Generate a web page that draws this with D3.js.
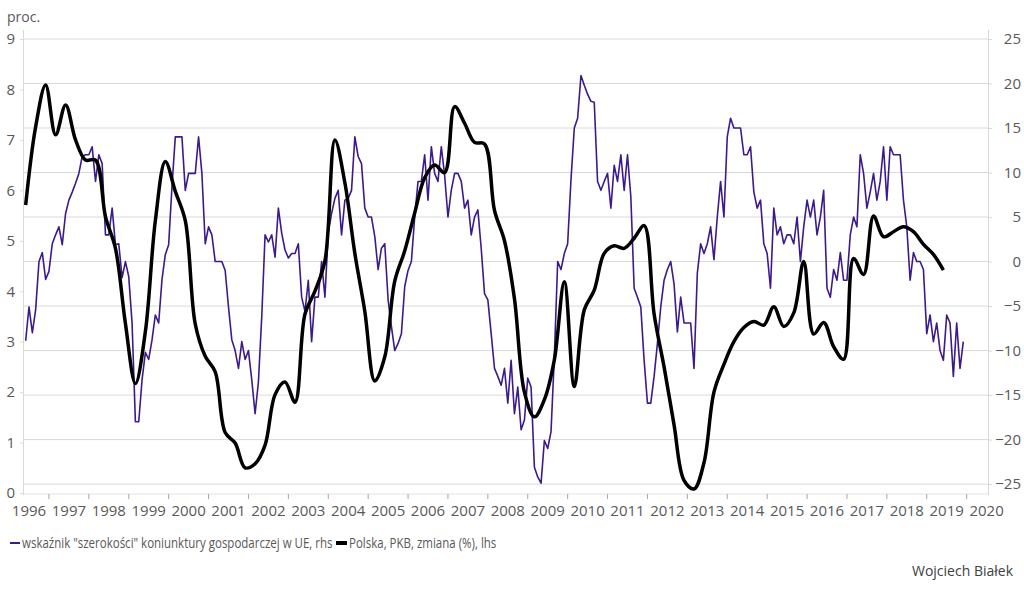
<!DOCTYPE html>
<html><head><meta charset="utf-8">
<script src="https://cdn.jsdelivr.net/npm/d3@7"></script>
<style>
html,body{margin:0;padding:0;background:#fff;}
svg text{font-family:"Open Sans","Noto Sans",sans-serif;fill:#595959;}
</style></head>
<body><svg id="c" width="1024" height="589"></svg>
<script>
// Years shown on the category axis
const yearLabels = d3.range(1996, 2021);
// Left axis (lhs) ticks and right axis (rhs) ticks
const leftTicks = [0,1,2,3,4,5,6,7,8,9];
const rightTicks = [25,20,15,10,5,0,-5,-10,-15,-20,-25];
// Legend labels
const seriesNames = ['wskaźnik "szerokości" koniunktury gospodarczej w UE, rhs', 'Polska, PKB, zmiana (%), lhs'];

// Monthly series, starting December 1995 (rhs)
const breadthStart = 1995 + 11/12;
const breadthValues = [
-8.9,-5.1,-8.0,-5.4,0.0,1.0,-2.0,-1.1,2.0,3.0,3.9,1.9,
5.4,6.9,7.8,8.8,9.9,11.8,12.0,12.0,12.9,9.0,12.0,11.0,
3.0,3.0,6.0,1.9,2.0,-1.8,0.0,-1.7,-6.9,-18.0,-18.0,-13.3,
-10.2,-11.0,-8.8,-6.0,-6.9,-2.0,0.8,1.9,8.4,14.0,14.0,14.0,
8.0,9.9,9.9,9.9,14.0,9.9,2.0,3.9,3.0,0.0,0.0,0.0,
-1.0,-5.1,-8.8,-10.0,-12.0,-9.0,-11.0,-10.0,-13.3,-17.1,-13.5,-6.2,
3.0,2.2,3.0,0.5,6.0,3.2,1.3,0.4,0.9,0.9,2.0,-4.0,
-5.6,-2.1,-9.0,-4.0,-4.0,0.0,-4.0,3.2,5.4,7.1,8.0,3.0,
6.9,7.1,8.0,14.0,11.8,11.0,6.0,5.0,5.0,2.8,-0.9,1.5,
2.0,-4.3,-7.3,-10.0,-9.2,-8.1,-2.8,-1.0,0.0,5.0,9.0,9.0,
12.0,6.9,12.9,9.9,9.0,12.9,9.7,5.0,8.0,9.9,9.9,9.0,
6.0,6.9,3.0,5.0,5.8,1.5,-3.6,-4.3,-8.1,-12.0,-12.9,-13.9,
-12.0,-15.9,-11.1,-17.1,-14.1,-18.9,-17.8,-13.1,-14.1,-23.1,-24.2,-24.9,
-20.1,-21.0,-19.1,-10.7,0.0,-0.9,0.9,2.0,9.2,15.0,16.1,20.9,
19.8,18.8,18.0,17.9,9.0,8.0,9.0,9.9,6.0,10.8,9.0,12.0,
8.0,12.0,7.3,-3.0,-4.0,-5.1,-11.1,-15.9,-15.9,-12.9,-9.2,-5.1,
-2.1,-0.9,0.0,-2.5,-7.9,-4.0,-6.9,-6.9,-6.9,-12.0,-1.3,2.0,
0.9,2.0,3.9,0.2,5.0,9.0,5.0,14.0,16.1,15.0,15.0,15.0,
12.0,12.0,12.9,7.8,6.0,6.9,2.0,0.9,-3.0,6.0,3.0,3.9,
2.0,3.0,3.0,2.0,5.0,0.0,3.9,6.9,5.0,6.9,3.0,5.0,
8.0,-3.0,-4.0,-0.9,-2.1,1.0,-2.1,-2.1,3.0,5.0,3.9,12.0,
9.9,6.0,7.8,9.9,6.9,9.0,12.9,6.9,12.9,12.0,12.0,12.0,
6.9,3.9,-2.1,1.0,0.0,0.0,-0.9,-8.1,-6.0,-9.0,-6.9,-10.0,
-11.1,-6.0,-6.9,-12.9,-6.9,-12.0,-9.0
];

// Quarterly series, starting Q4 1995 (lhs)
const gdpStart = 1995 + 11/12;
const gdpValues = [
5.71,7.26,8.09,7.10,7.69,7.00,6.60,6.60,5.48,4.85,3.36,2.17,
3.20,5.40,6.57,5.98,5.40,3.35,2.71,2.40,1.20,0.99,0.50,0.58,
0.95,1.95,2.20,1.80,3.55,4.00,4.60,7.00,6.15,4.75,3.60,2.22,
2.70,4.20,4.80,5.55,6.25,6.50,6.35,7.66,7.33,6.95,6.92,5.60,
5.00,3.85,2.00,1.51,1.85,2.64,4.19,2.11,3.63,4.02,4.75,4.90,
4.85,5.05,5.30,3.55,2.50,1.35,0.25,0.08,0.60,2.00,2.55,3.00,
3.28,3.40,3.33,3.69,3.30,3.57,4.59,3.15,3.38,2.90,2.65,4.65,
4.33,5.49,5.08,5.18,5.28,5.18,4.93,4.73,4.42
];

const breadth = breadthValues.map((v,i)=>({t: breadthStart + i/12, v}));
const gdp = gdpValues.map((v,i)=>({t: gdpStart + i*0.25, v}));

const svg = d3.select("#c");
const x = d3.scaleLinear().domain([1996, 2020]).range([29, 986.6]);
const yL = d3.scaleLinear().domain([0, 9]).range([493, 39]);
const yR = d3.scaleLinear().domain([-26, 25]).range([493, 39]);
const plotL = 24, plotR = 988;

// gridlines (rhs values)
svg.append("g").selectAll("line").data(rightTicks).join("line")
  .attr("x1", plotL).attr("x2", plotR)
  .attr("y1", d=>yR(d)).attr("y2", d=>yR(d))
  .attr("stroke", "#d9d9d9").attr("stroke-width", 1);

// x axis baseline
svg.append("line").attr("x1", plotL).attr("x2", plotR).attr("y1", 494).attr("y2", 494)
  .attr("stroke", "#e3e3e3");

// left axis
const gL = svg.append("g").attr("transform", `translate(${plotL},0)`)
  .call(d3.axisLeft(yL).tickValues(leftTicks).tickSize(4).tickPadding(5).tickFormat(d3.format("d")));
gL.select(".domain").attr("stroke", "#d9d9d9").attr("d", `M-0.5,30V495`);
gL.selectAll(".tick line").attr("stroke", "#d9d9d9");
gL.selectAll(".tick text").attr("font-size", 15).attr("fill", "#595959")
  .attr("font-family", '"Open Sans","Noto Sans",sans-serif');

// right axis
const gR = svg.append("g").attr("transform", `translate(${plotR},0)`)
  .call(d3.axisRight(yR).tickValues(rightTicks).tickSize(4).tickPadding(29).tickFormat(d3.format("d")));
gR.select(".domain").attr("stroke", "#d9d9d9").attr("d", `M0.5,30V495`);
gR.selectAll(".tick line").attr("stroke", "#d9d9d9");
gR.selectAll(".tick text").attr("font-size", 15).attr("fill", "#595959").attr("text-anchor", "end")
  .attr("font-family", '"Open Sans","Noto Sans",sans-serif');

// x axis ticks between year labels
const gX = svg.append("g").attr("transform", `translate(0,494)`);
gX.selectAll("line").data(d3.range(1996, 2020).map(d=>d+0.5)).join("line")
  .attr("x1", d=>x(d)).attr("x2", d=>x(d)).attr("y1", 0).attr("y2", 5)
  .attr("stroke", "#a6a6a6");
gX.selectAll("text").data(yearLabels).join("text")
  .attr("x", d=>x(d)).attr("y", 22).attr("text-anchor", "middle")
  .attr("font-size", 15).text(d=>d);

// series
const lineR = d3.line().x(d=>x(d.t)).y(d=>yR(d.v));
const lineL = d3.line().x(d=>x(d.t)).y(d=>yL(d.v)).curve(d3.curveCatmullRom.alpha(0.5));

svg.append("path").datum(breadth).attr("d", lineR)
  .attr("fill", "none").attr("stroke", "#3d1a8c").attr("stroke-width", 1.6).attr("stroke-linejoin", "round");
svg.append("path").datum(gdp).attr("d", lineL)
  .attr("fill", "none").attr("stroke", "#000").attr("stroke-width", 3.5).attr("stroke-linejoin", "round");

// unit label
svg.append("text").attr("x", 7).attr("y", 22).attr("font-size", 14).text("proc.");

// legend: text set at 14px and condensed horizontally to the reference's width
const lg = svg.append("g").attr("transform", "translate(0,543)");
lg.append("line").attr("x1", 10).attr("x2", 20).attr("y1", 0).attr("y2", 0)
  .attr("stroke", "#3d1a8c").attr("stroke-width", 2);
const g1 = lg.append("g").attr("transform", "translate(22,0)");
const t1 = g1.append("text").attr("x", 0).attr("y", 5).attr("font-size", 14).text(seriesNames[0]);
const w1 = t1.node().getComputedTextLength();
const sx = Math.min(1, 311 / w1);
g1.attr("transform", `translate(22,0) scale(${sx},1)`);
const end1 = 22 + w1 * sx;
lg.append("line").attr("x1", end1 + 3).attr("x2", end1 + 14).attr("y1", 0).attr("y2", 0)
  .attr("stroke", "#000").attr("stroke-width", 4);
lg.append("g").attr("transform", `translate(${end1 + 16},0) scale(${sx},1)`)
  .append("text").attr("x", 0).attr("y", 5).attr("font-size", 14).text(seriesNames[1]);

// author
svg.append("text").attr("x", 1013).attr("y", 576).attr("text-anchor", "end")
  .attr("font-size", 14).style("fill", "#404040").text("Wojciech Białek");
</script></body></html>
